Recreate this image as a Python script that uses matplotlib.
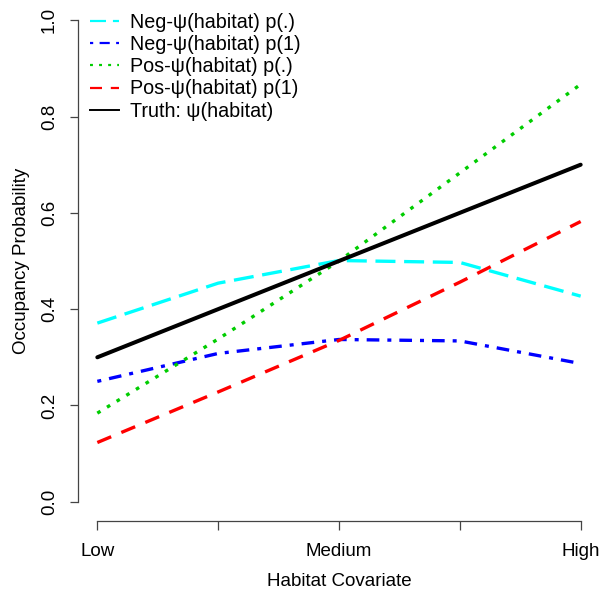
import matplotlib
matplotlib.use("Agg")
import matplotlib.pyplot as plt
from matplotlib.lines import Line2D

plt.rcParams['font.family'] = ['Liberation Sans', 'DejaVu Sans']

x_pos = [1, 2, 3, 4, 5]
x_labels = ["Low", "", "Medium", "", "High"]

neg_p_dot = [0.371, 0.454, 0.501, 0.497, 0.427]
neg_p_1 = [0.250, 0.308, 0.337, 0.334, 0.287]
pos_p_dot = [0.184, 0.338, 0.500, 0.683, 0.867]
pos_p_1 = [0.123, 0.228, 0.335, 0.456, 0.582]
truth = [0.300, 0.400, 0.500, 0.600, 0.700]

series_names = ["Neg-\u03c8(habitat) p(.)", "Neg-\u03c8(habitat) p(1)",
                "Pos-\u03c8(habitat) p(.)", "Pos-\u03c8(habitat) p(1)",
                "Truth: \u03c8(habitat)"]

fig = plt.figure(figsize=(6.01, 5.92), dpi=100)
ax = fig.add_axes([78/601, 71/592, 522/601, 520/592])

styles = [
    dict(color="#00FFFF", lw=2.4, dashes=(6, 2.6)),
    dict(color="#0000FF", lw=2.4, dashes=(1.2, 2.4, 3.8, 2.4)),
    dict(color="#00CD00", lw=2.4, dashes=(1.1, 2.3)),
    dict(color="#FF0000", lw=2.4, dashes=(4.5, 3.3)),
    dict(color="black", lw=2.9),
]
data = [neg_p_dot, neg_p_1, pos_p_dot, pos_p_1, truth]
for d, st in zip(data, styles):
    ax.plot(x_pos, d, solid_capstyle='round', dash_capstyle='butt', **st)

ax.set_xlim(0.84, 5.16)
ax.set_ylim(-0.04, 1.04)
for s in ['top', 'right']:
    ax.spines[s].set_visible(False)
ax.spines['left'].set_bounds(0, 1)
ax.spines['bottom'].set_bounds(1, 5)
for s in ['left', 'bottom']:
    ax.spines[s].set_color('#444444')
    ax.spines[s].set_linewidth(0.9)

ax.set_xticks(x_pos)
ax.set_xticklabels(x_labels, fontsize=13.5)
ax.set_yticks([0, 0.2, 0.4, 0.6, 0.8, 1.0])
ax.set_yticklabels(["0.0", "0.2", "0.4", "0.6", "0.8", "1.0"], fontsize=13.5,
                   rotation=90, va='center')
ax.tick_params(axis='y', length=5.5, width=0.9, color='#444444', pad=9)
ax.tick_params(axis='x', length=6.5, width=0.9, color='#444444', pad=9)

ax.set_xlabel("Habitat Covariate", fontsize=13.5, labelpad=10)
ax.set_ylabel("Occupancy Probability", fontsize=13.5, labelpad=8)

handles = []
for st in styles:
    h = dict(st)
    h['lw'] = 1.6 if 'dashes' in st else 1.4
    if 'dashes' in h:
        h['dashes'] = tuple(v * 1.2 for v in h['dashes'])
    handles.append(Line2D([], [], **h))
leg = ax.legend(handles, series_names, loc='upper left', frameon=False,
                prop=dict(size=14.2), bbox_to_anchor=(12/522, 1 - 12/520),
                borderaxespad=0, borderpad=0, handlelength=1.45,
                handletextpad=0.6, labelspacing=0.16)

fig.savefig("out.png", dpi=100)
